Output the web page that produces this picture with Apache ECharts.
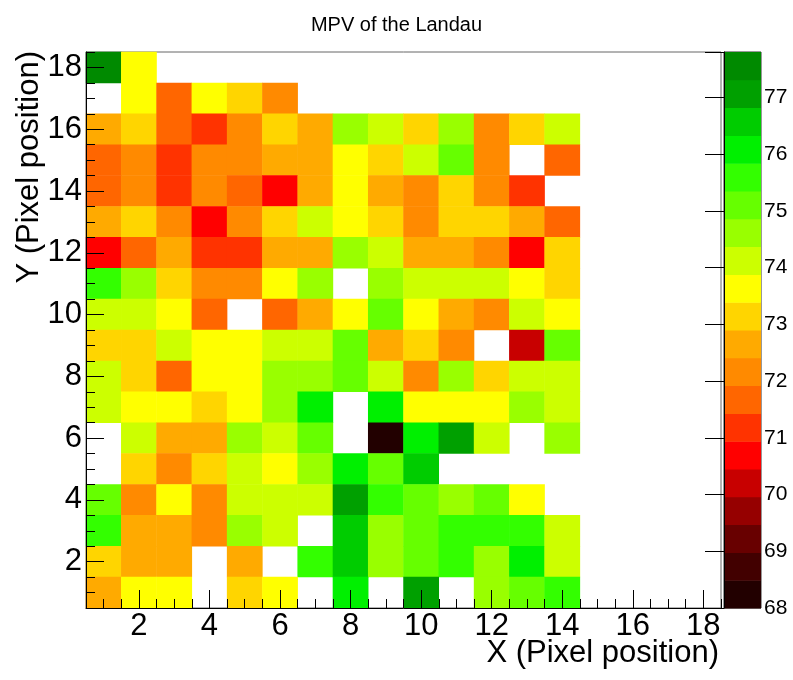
<!DOCTYPE html>
<html>
<head>
<meta charset="utf-8">
<script src="https://cdn.jsdelivr.net/npm/echarts@6/dist/echarts.min.js"></script>
<style>
  html, body { margin: 0; padding: 0; background: #fff; }
  #chart { width: 793px; height: 680px; }
</style>
</head>
<body>
<div id="chart"></div>
<script>
// pixel positions
const xCats = ['1', '2', '3', '4', '5', '6', '7', '8', '9', '10', '11', '12', '13', '14', '15', '16', '17', '18'];
const yCats = ['1', '2', '3', '4', '5', '6', '7', '8', '9', '10', '11', '12', '13', '14', '15', '16', '17', '18'];

// MPV per pixel, one line per Y row (Y=18 first), columns X=1..14, null = empty bin
const mpvRows = [
  /* 18 */ [77.5, 73.6, null, null, null, null, null, null, null, null, null, null, null, null],
  /* 17 */ [null, 73.6, 71.7, 73.5, 73.1, 72.2, null, null, null, null, null, null, null, null],
  /* 16 */ [72.6, 73.1, 71.7, 71.3, 72.2, 73.2, 72.7, 74.6, 74.2, 73.1, 74.5, 72.2, 73.1, 74.1],
  /* 15 */ [71.7, 72.2, 71.2, 72.2, 72.2, 72.6, 72.6, 73.6, 73.1, 74.1, 75.0, 72.2, null, 71.7],
  /* 14 */ [71.7, 72.2, 71.2, 72.2, 71.7, 70.7, 72.6, 73.6, 72.6, 72.2, 73.1, 72.2, 71.2, null],
  /* 13 */ [72.6, 73.1, 72.2, 70.7, 72.2, 73.1, 74.1, 73.6, 73.1, 72.2, 73.1, 73.1, 72.6, 71.7],
  /* 12 */ [70.7, 71.7, 72.6, 71.2, 71.2, 72.6, 72.6, 74.6, 74.2, 72.6, 72.6, 72.2, 70.7, 73.1],
  /* 11 */ [75.7, 74.6, 73.1, 72.2, 72.2, 73.6, 74.6, null, 74.6, 74.1, 74.1, 74.1, 73.7, 73.1],
  /* 10 */ [74.1, 74.1, 73.6, 71.7, null, 71.7, 72.6, 73.6, 75.0, 73.6, 72.6, 72.2, 74.1, 73.6],
  /*  9 */ [73.1, 73.1, 74.2, 73.6, 73.6, 74.1, 74.1, 74.9, 72.6, 73.1, 72.2, null, 70.2, 75.0],
  /*  8 */ [74.1, 73.1, 71.7, 73.6, 73.6, 74.6, 74.6, 75.3, 74.1, 72.2, 74.6, 73.1, 74.1, 74.1],
  /*  7 */ [74.1, 73.6, 73.6, 73.2, 73.6, 74.6, 76.0, null, 76.0, 73.6, 73.6, 73.6, 74.6, 74.2],
  /*  6 */ [null, 74.1, 72.6, 72.6, 74.6, 74.1, 75.0, null, 68.2, 76.0, 77.1, 74.1, null, 74.6],
  /*  5 */ [null, 73.1, 72.2, 73.1, 74.1, 73.6, 74.6, 76.0, 75.1, 76.6, null, null, null, null],
  /*  4 */ [75.2, 72.2, 73.6, 72.2, 74.1, 74.1, 74.2, 77.1, 75.6, 75.1, 74.6, 75.0, 73.6, null],
  /*  3 */ [75.6, 72.6, 72.6, 72.2, 74.6, 74.1, null, 76.6, 74.6, 75.1, 75.6, 75.6, 75.6, 74.2],
  /*  2 */ [73.1, 72.6, 72.6, null, 72.6, null, 75.6, 76.6, 74.6, 75.1, 75.6, 74.6, 76.0, 74.2],
  /*  1 */ [72.6, 73.6, 73.6, null, 73.1, 73.6, null, 76.0, null, 77.1, null, 74.6, 75.3, 75.7]
];

// contour levels of the colour scale (20 bands) and their colours
const levelEdges = [68.00, 68.49, 68.98, 69.47, 69.96, 70.45, 70.94, 71.43, 71.92, 72.41, 72.90,
                    73.39, 73.88, 74.37, 74.86, 75.35, 75.84, 76.33, 76.82, 77.31, 77.80];
const levelColors = ['#220000', '#420000', '#680000', '#960000', '#c80000', '#ff0000', '#ff3300',
                     '#ff6600', '#ff8a00', '#ffaa00', '#ffd500', '#ffff00', '#ccff00', '#99ff00',
                     '#66ff00', '#33ff00', '#00f000', '#00cc00', '#00a000', '#008a00'];

const font = 'Liberation Sans, Arial, sans-serif';

// heatmap data [xIndex, yIndex, value]
const heatData = [];
mpvRows.forEach((row, i) => {
  const y = 18 - i;
  row.forEach((v, j) => {
    if (v !== null) heatData.push([j, y - 1, v]);
  });
});

const pieces = levelColors.map((c, i) => ({ gte: levelEdges[i], lt: levelEdges[i + 1], color: c }));
const barData = levelColors.map((c, i) => [levelEdges[i], levelEdges[i + 1], i]);

const even = (i) => i % 2 === 1;   // labels 2, 4, ... 18
const odd = (i) => i % 2 === 0;

function catAxis(grid, data, extra) {
  return Object.assign({
    type: 'category', gridIndex: grid, data: data, boundaryGap: true, z: 5,
    axisLine: { show: false },
    axisLabel: { show: false },
    splitLine: { show: false }
  }, extra);
}

const chart = echarts.init(document.getElementById('chart'));

const option = {
  backgroundColor: '#fff',
  animation: false,
  title: {
    text: 'MPV of the Landau',
    left: 'center', top: 10,
    textStyle: { fontFamily: font, fontSize: 20, fontWeight: 'normal', color: '#000' }
  },
  grid: [
    { left: 86, top: 52, width: 635, height: 556, show: true, borderColor: '#666', borderWidth: 1 },
    { left: 724, top: 52, width: 37, height: 556, show: true, borderColor: '#333', borderWidth: 1 }
  ],
  xAxis: [
    catAxis(0, xCats, {
      position: 'bottom',
      axisLine: { show: true, lineStyle: { color: '#000', width: 1 } },
      axisTick: { show: true, inside: true, length: 9, interval: 0, lineStyle: { color: '#000' } },
      axisLabel: { show: true, interval: even, margin: 3, fontSize: 31, fontFamily: font, color: '#000' }
    }),
    catAxis(0, xCats, {
      position: 'bottom',
      axisTick: { show: true, inside: true, length: 18, alignWithLabel: true, interval: even, lineStyle: { color: '#000' } }
    }),
    catAxis(0, xCats, {
      position: 'bottom',
      axisTick: { show: true, inside: true, length: 9, alignWithLabel: true, interval: odd, lineStyle: { color: '#000' } }
    }),
    { type: 'value', gridIndex: 1, min: 0, max: 1, show: false }
  ],
  yAxis: [
    catAxis(0, yCats, {
      position: 'left',
      axisLine: { show: true, lineStyle: { color: '#000', width: 1 } },
      axisTick: { show: true, inside: true, length: 9, interval: 0, lineStyle: { color: '#000' } },
      axisLabel: { show: true, interval: even, margin: 4, fontSize: 31, fontFamily: font, color: '#000' }
    }),
    catAxis(0, yCats, {
      position: 'left',
      axisTick: { show: true, inside: true, length: 18, alignWithLabel: true, interval: even, lineStyle: { color: '#000' } }
    }),
    catAxis(0, yCats, {
      position: 'left',
      axisTick: { show: true, inside: true, length: 9, alignWithLabel: true, interval: odd, lineStyle: { color: '#000' } }
    }),
    {
      type: 'value', gridIndex: 1, position: 'right', min: 68, max: 77.8, interval: 1, z: 5,
      axisLine: { show: true, lineStyle: { color: '#000' } },
      axisTick: { show: true, inside: true, length: 19, lineStyle: { color: '#000' } },
      axisLabel: {
        margin: 3, fontSize: 21, fontFamily: font, color: '#000',
        formatter: (v) => (Number.isInteger(v) ? String(v) : '')
      },
      splitLine: { show: false }
    }
  ],
  visualMap: {
    type: 'piecewise', show: false, seriesIndex: 0, dimension: 2,
    pieces: pieces
  },
  graphic: [
    {
      type: 'text', x: 719, y: 653, z: 10,
      style: { text: 'X (Pixel position)', font: '31px ' + font, fill: '#000', textAlign: 'right', textVerticalAlign: 'middle' }
    },
    {
      type: 'text', x: 29, y: 51, rotation: Math.PI / 2, z: 10,
      style: { text: 'Y (Pixel position)', font: '31px ' + font, fill: '#000', textAlign: 'right', textVerticalAlign: 'middle' }
    }
  ],
  series: [
    {
      type: 'heatmap', xAxisIndex: 0, yAxisIndex: 0,
      data: heatData,
      itemStyle: { borderWidth: 0 },
      emphasis: { disabled: true }
    },
    {
      type: 'custom', xAxisIndex: 3, yAxisIndex: 3, silent: true,
      data: barData,
      encode: { y: [0, 1] },
      renderItem: function (params, api) {
        const lo = api.coord([0, api.value(0)]);
        const hi = api.coord([1, api.value(1)]);
        return {
          type: 'rect',
          shape: { x: lo[0], y: hi[1], width: hi[0] - lo[0], height: lo[1] - hi[1] + 0.5 },
          style: { fill: levelColors[api.value(2)] }
        };
      }
    }
  ]
};

chart.setOption(option);
</script>
</body>
</html>
